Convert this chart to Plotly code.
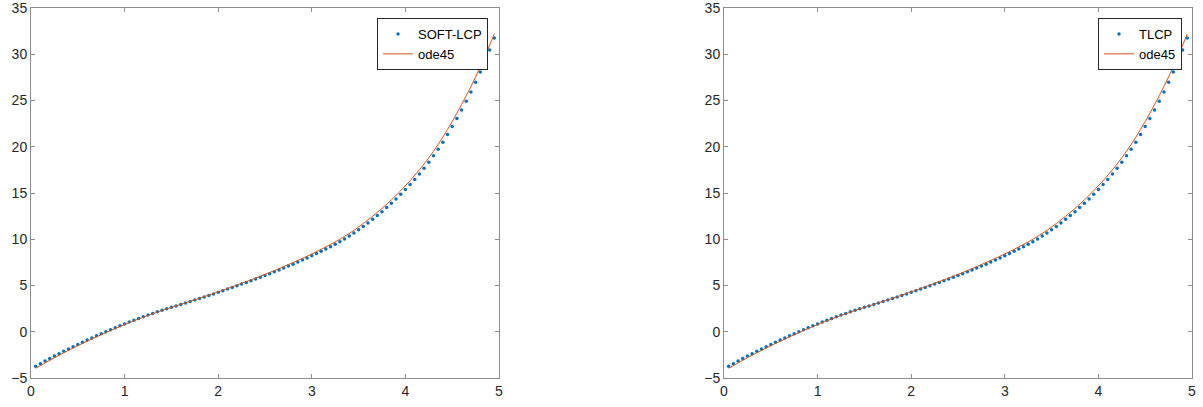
import plotly.graph_objects as go

# ---------------- data ----------------
t_dots = [round(0.05 * k, 2) for k in range(1, 100)]  # 0.05 .. 4.95

soft_lcp = [
    -3.74, -3.45, -3.17, -2.90, -2.63, -2.37, -2.11, -1.86, -1.61, -1.37,
    -1.13, -0.90, -0.67, -0.44, -0.22, 0.00, 0.22, 0.43, 0.64, 0.85,
    1.05, 1.24, 1.43, 1.62, 1.80, 1.98, 2.15, 2.32, 2.48, 2.64,
    2.79, 2.94, 3.10, 3.26, 3.42, 3.59, 3.75, 3.92, 4.09, 4.26,
    4.43, 4.61, 4.79, 4.97, 5.15, 5.33, 5.51, 5.70, 5.89, 6.08,
    6.28, 6.48, 6.68, 6.89, 7.10, 7.31, 7.53, 7.75, 7.98, 8.21,
    8.45, 8.69, 8.94, 9.20, 9.46, 9.74, 10.03, 10.34, 10.67, 11.02,
    11.39, 11.77, 12.16, 12.56, 12.98, 13.42, 13.88, 14.36, 14.86, 15.38,
    15.91, 16.47, 17.06, 17.68, 18.33, 19.02, 19.74, 20.50, 21.33, 22.18,
    23.06, 23.97, 24.92, 25.92, 26.97, 28.08, 29.24, 30.46, 31.75,
]

tlcp = [
    -3.74, -3.45, -3.17, -2.90, -2.63, -2.37, -2.11, -1.86, -1.61, -1.37,
    -1.13, -0.90, -0.67, -0.44, -0.22, 0.00, 0.22, 0.43, 0.64, 0.85,
    1.05, 1.24, 1.43, 1.62, 1.80, 1.98, 2.15, 2.32, 2.48, 2.64,
    2.79, 2.94, 3.10, 3.26, 3.42, 3.59, 3.75, 3.92, 4.09, 4.26,
    4.43, 4.61, 4.79, 4.97, 5.15, 5.33, 5.51, 5.70, 5.89, 6.08,
    6.28, 6.48, 6.68, 6.89, 7.10, 7.31, 7.53, 7.75, 7.98, 8.21,
    8.45, 8.69, 8.94, 9.20, 9.46, 9.74, 10.03, 10.34, 10.67, 11.02,
    11.39, 11.77, 12.16, 12.56, 12.98, 13.42, 13.88, 14.36, 14.86, 15.38,
    15.91, 16.47, 17.06, 17.68, 18.33, 19.02, 19.74, 20.50, 21.33, 22.18,
    23.06, 23.97, 24.92, 25.92, 26.97, 28.08, 29.24, 30.46, 31.75,
]

t_ode = [
    0.05, 0.15, 0.25, 0.35, 0.45, 0.55, 0.65, 0.75, 0.85, 0.95,
    1.05, 1.15, 1.25, 1.35, 1.45, 1.55, 1.65, 1.75, 1.85, 1.95,
    2.05, 2.15, 2.25, 2.35, 2.45, 2.55, 2.65, 2.75, 2.85, 2.95,
    3.05, 3.15, 3.25, 3.35, 3.45, 3.55, 3.65, 3.75, 3.85, 3.95,
    4.05, 4.15, 4.25, 4.35, 4.45, 4.55, 4.65, 4.75, 4.85, 4.95,
]
ode45 = [
    -3.95, -3.37, -2.81, -2.28, -1.76, -1.26, -0.79, -0.32, 0.13, 0.56,
    0.99, 1.38, 1.76, 2.13, 2.47, 2.80, 3.12, 3.45, 3.79, 4.14,
    4.49, 4.86, 5.24, 5.61, 6.00, 6.41, 6.82, 7.26, 7.71, 8.17,
    8.66, 9.17, 9.71, 10.30, 10.96, 11.70, 12.49, 13.33, 14.25, 15.25,
    16.33, 17.51, 18.81, 20.25, 21.87, 23.63, 25.52, 27.55, 29.79, 32.20,
]

x_ticks = [0, 1, 2, 3, 4, 5]
y_ticks = [-5, 0, 5, 10, 15, 20, 25, 30, 35]

# ---------------- style ----------------
BLUE = "#0072BD"
ORANGE = "#D95319"
AXC = "#8c8c8c"
TXT = "#262626"
FONT = "Liberation Sans, Arial, sans-serif"

W, H = 1203, 407

fig = go.Figure()

fig.add_trace(go.Scatter(x=t_dots, y=soft_lcp, mode="markers", name="SOFT-LCP",
                         marker=dict(color=BLUE, size=3.5, symbol="circle"),
                         xaxis="x", yaxis="y", legend="legend"))
fig.add_trace(go.Scatter(x=t_ode, y=ode45, mode="lines", name="ode45",
                         line=dict(color=ORANGE, width=1, shape="spline"),
                         xaxis="x", yaxis="y", legend="legend"))
fig.add_trace(go.Scatter(x=t_dots, y=tlcp, mode="markers", name="TLCP",
                         marker=dict(color=BLUE, size=3.5, symbol="circle"),
                         xaxis="x2", yaxis="y2", legend="legend2"))
fig.add_trace(go.Scatter(x=t_ode, y=ode45, mode="lines", name="ode45",
                         line=dict(color=ORANGE, width=1, shape="spline"),
                         xaxis="x2", yaxis="y2", legend="legend2"))

def xa(domain, anchor):
    return dict(domain=domain, anchor=anchor, range=[0, 5], tickvals=x_ticks,
                showgrid=False, zeroline=False, showline=True, linecolor=AXC,
                linewidth=1, mirror="ticks", ticks="inside", ticklen=4,
                tickcolor=AXC, automargin=False, ticklabeloverflow="allow",
                tickfont=dict(family=FONT, size=14, color=TXT))

def ya(domain, anchor):
    return dict(domain=domain, anchor=anchor, range=[-5, 35], tickvals=y_ticks,
                showgrid=False, zeroline=False, showline=True, linecolor=AXC,
                linewidth=1, mirror="ticks", ticks="inside", ticklen=4,
                tickcolor=AXC, automargin=False, ticklabeloverflow="allow",
                tickfont=dict(family=FONT, size=14, color=TXT))

yd = [29 / H, 399 / H]
legend_common = dict(bgcolor="white", bordercolor="#262626", borderwidth=1,
                     font=dict(family=FONT, size=13, color="#000000"),
                     xanchor="right", yanchor="top", tracegroupgap=0,
                     itemwidth=30)

fig.update_layout(
    width=W, height=H,
    margin=dict(l=0, r=0, t=0, b=0, autoexpand=False),
    paper_bgcolor="white", plot_bgcolor="white",
    showlegend=True,
    xaxis=xa([31 / W, 499 / W], "y"),
    yaxis=ya(yd, "x"),
    xaxis2=xa([724 / W, 1192 / W], "y2"),
    yaxis2=ya(yd, "x2"),
    legend=dict(x=488 / W, y=1 - 18 / H, **legend_common),
    legend2=dict(x=1182 / W, y=1 - 18 / H, **legend_common),
)

fig.write_html("out.html",
               config={"displayModeBar": False},
               post_script="document.body.style.margin='0';document.body.style.overflow='hidden';")
